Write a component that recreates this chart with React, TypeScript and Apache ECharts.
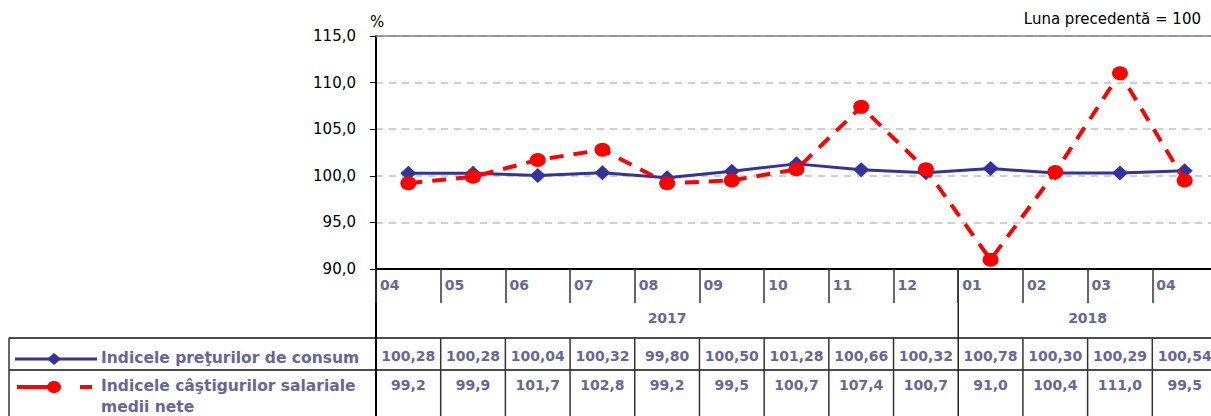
import React, { useEffect, useRef } from "react";
import * as echarts from "echarts";

const months = ["04", "05", "06", "07", "08", "09", "10", "11", "12", "01", "02", "03", "04"];
const yearLabels = ["2017", "2018"];
const yearStartIndex = [0, 9];
const cpiValues = [100.28, 100.28, 100.04, 100.32, 99.8, 100.5, 101.28, 100.66, 100.32, 100.78, 100.3, 100.29, 100.54];
const wageValues = [99.2, 99.9, 101.7, 102.8, 99.2, 99.5, 100.7, 107.4, 100.7, 91.0, 100.4, 111.0, 99.5];
const cpiName = "Indicele preţurilor de consum";
const wageNameLines = ["Indicele câştigurilor salariale", "medii nete"];
const unitLabel = "%";
const noteLabel = "Luna precedentă = 100";
const yMin = 90;
const yMax = 115;
const yStep = 5;

const BLUE = "#333399";
const RED = "#ff0000";
const TXT = "#666699";
const FONT = '"DejaVu Sans", sans-serif';

export default function App() {
  const ref = useRef<HTMLDivElement>(null);
  useEffect(() => {
    if (!ref.current) return;
    const chart = echarts.init(ref.current, null, { renderer: "svg" });
    chart.setOption({
      animation: false,
      textStyle: { fontFamily: FONT },
      grid: { left: 376, top: 36, width: 841, height: 233, containLabel: false },
      xAxis: [
        {
          type: "category",
          data: months,
          boundaryGap: true,
          axisLine: { lineStyle: { color: "#000", width: 2 } },
          axisTick: { show: true, length: 34, interval: 0, lineStyle: { color: "#333", width: 1.5 } },
          axisLabel: { show: false },
          splitLine: { show: false },
        },
        {
          type: "category",
          data: months,
          position: "top",
          axisLine: { lineStyle: { color: "#808080", width: 1.5 } },
          axisTick: { show: false },
          axisLabel: { show: false },
          splitLine: { show: false },
        },
      ],
      yAxis: {
        type: "value",
        min: yMin,
        max: yMax,
        interval: yStep,
        axisLine: { show: true, lineStyle: { color: "#000", width: 2 } },
        axisTick: { show: true, length: 6, lineStyle: { color: "#000", width: 1 } },
        axisLabel: {
          formatter: (v: number) => v.toFixed(1).replace(".", ","),
          fontSize: 15,
          color: "#000",
          margin: 20,
          fontFamily: FONT,
        },
        splitLine: { show: true, lineStyle: { color: "#c0c0c0", type: [7, 6], width: 1.5 } },
      },
      series: [
        {
          type: "line",
          name: cpiName,
          data: cpiValues,
          color: BLUE,
          lineStyle: { color: BLUE, width: 3 },
          itemStyle: { color: BLUE },
          symbol: "diamond",
          symbolSize: [16, 15],
          z: 2,
        },
        {
          type: "line",
          name: wageNameLines.join(" "),
          data: wageValues,
          color: RED,
          lineStyle: { color: RED, width: 4, type: [14, 10] },
          itemStyle: { color: RED },
          symbol: "circle",
          symbolSize: [16, 14],
          z: 3,
        },
      ],
    });

    const cx = (i: number) => chart.convertToPixel({ xAxisIndex: 0 }, i) as number;
    const half = (cx(1) - cx(0)) / 2;
    const yBottom = chart.convertToPixel({ yAxisIndex: 0 }, yMin) as number;
    const yTop = chart.convertToPixel({ yAxisIndex: 0 }, yMax) as number;
    const leftEdge = cx(0) - half;
    const rightEdge = cx(months.length - 1) + half;
    const H = 416;
    const catY = yBottom + 16;
    const yearY = yBottom + 49;
    const line1Y = yBottom + 69;
    const line2Y = yBottom + 101;
    const row1Y = yBottom + 87;
    const row2Y = yBottom + 116;
    const row2bY = yBottom + 138;
    const tableLeft = 9;

    const g: any[] = [];
    const txt = (text: string, x: number, y: number, font: string, fill: string, align = "left") => ({
      type: "text",
      x,
      y,
      silent: true,
      style: { text, font, fill, align, verticalAlign: "middle", textAlign: align, textVerticalAlign: "middle" },
    });
    const ln = (x1: number, y1: number, x2: number, y2: number, stroke: string, lineWidth: number) => ({
      type: "line",
      silent: true,
      shape: { x1, y1, x2, y2 },
      style: { stroke, lineWidth },
    });

    const boldSmall = `bold 14px ${FONT}`;
    const boldLabel = `bold 15.5px ${FONT}`;

    months.forEach((m, i) => {
      g.push(txt(m, cx(i) - half + 4, catY, boldSmall, TXT));
    });
    yearLabels.forEach((y, k) => {
      const s = yearStartIndex[k];
      const e = k + 1 < yearStartIndex.length ? yearStartIndex[k + 1] - 1 : months.length - 1;
      const mid = (cx(s) - half + cx(e) + half) / 2;
      g.push(txt(y, mid, yearY, boldSmall, TXT, "center"));
    });
    g.push(ln(tableLeft, line1Y, rightEdge, line1Y, "#111", 1.5));
    g.push(ln(tableLeft, line2Y, rightEdge, line2Y, "#111", 1.5));
    g.push(ln(tableLeft, line1Y, tableLeft, H, "#333", 1.5));
    g.push(ln(leftEdge, yBottom, leftEdge, H, "#000", 2));
    yearStartIndex.forEach((s) => {
      if (s > 0) g.push(ln(cx(s) - half, yBottom, cx(s) - half, H, "#222", 1.5));
    });
    for (let i = 1; i < months.length; i++) {
      if (yearStartIndex.indexOf(i) >= 0) continue;
      g.push(ln(cx(i) - half, line1Y, cx(i) - half, H, "#333", 1.5));
    }
    cpiValues.forEach((v, i) => {
      g.push(txt(v.toFixed(2).replace(".", ","), cx(i), row1Y, boldSmall, TXT, "center"));
    });
    wageValues.forEach((v, i) => {
      g.push(txt(v.toFixed(1).replace(".", ","), cx(i), row2Y, boldSmall, TXT, "center"));
    });
    g.push(txt(cpiName, 101, row1Y + 2, boldLabel, TXT));
    g.push(txt(wageNameLines[0], 101, row2Y + 1, boldLabel, TXT));
    g.push(txt(wageNameLines[1], 101, row2bY, boldLabel, TXT));
    const lg1 = row1Y + 3;
    g.push(ln(15, lg1, 97, lg1, BLUE, 3));
    g.push({
      type: "polygon",
      silent: true,
      shape: { points: [[54, lg1 - 6], [61, lg1], [54, lg1 + 6], [47, lg1]] },
      style: { fill: BLUE },
    });
    const lg2 = row2Y + 2;
    g.push(ln(17, lg2, 54, lg2, RED, 4));
    g.push({ type: "ellipse", silent: true, shape: { cx: 54, cy: lg2, rx: 7, ry: 6 }, style: { fill: RED } });
    g.push(ln(80, lg2, 92, lg2, RED, 4));
    g.push(txt(unitLabel, leftEdge - 6, yTop - 14, `15px ${FONT}`, "#000"));
    g.push(txt(noteLabel, 1201, 19, `15px ${FONT}`, "#000", "right"));

    chart.setOption({ graphic: { elements: g } });
    return () => chart.dispose();
  }, []);
  return (
    <div style={{ position: "absolute", left: 0, top: 0, width: 1211, height: 416, overflow: "hidden", background: "#fff" }}>
      <div ref={ref} style={{ position: "absolute", left: 0, top: 0, width: 1240, height: 416 }} />
    </div>
  );
}
